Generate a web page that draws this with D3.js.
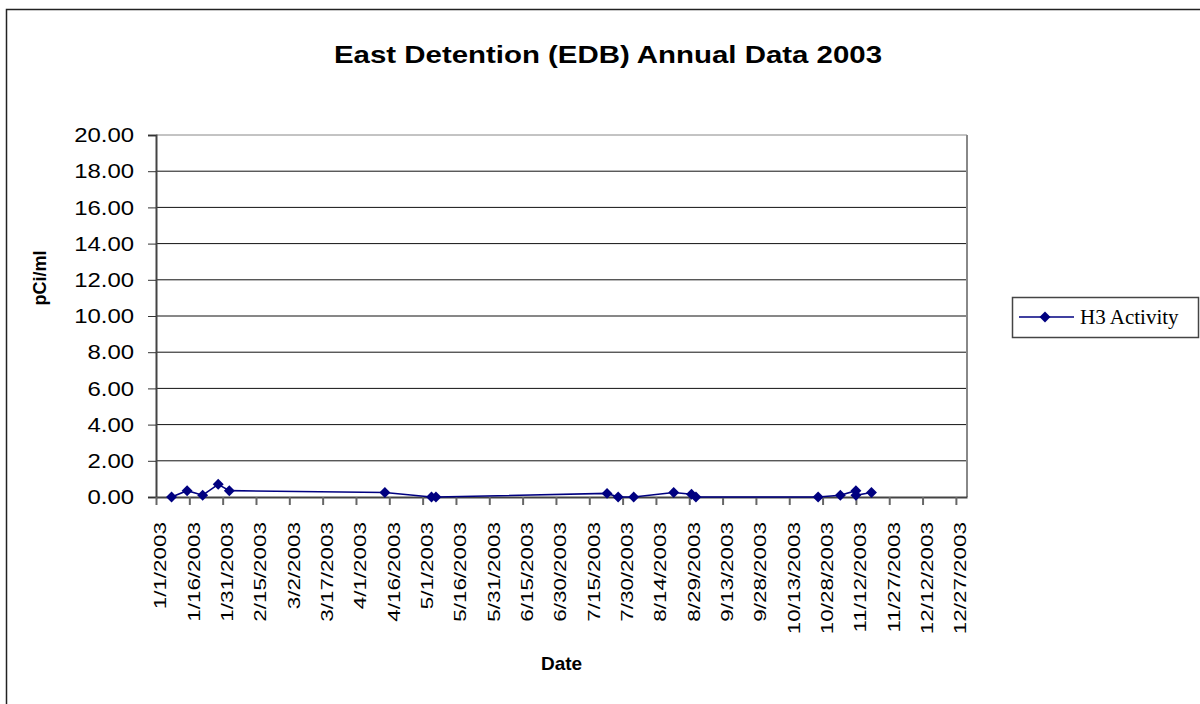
<!DOCTYPE html>
<html>
<head>
<meta charset="utf-8">
<script src="https://cdn.jsdelivr.net/npm/d3@7"></script>
<style>
  html, body { margin: 0; padding: 0; background: #fff; }
  svg { display: block; }
</style>
</head>
<body>
<svg id="chart" width="1200" height="704"></svg>
<script>
// H3 activity samples, East Detention basin, 2003
const sampleDates = [
  "2003-01-08", "2003-01-15", "2003-01-22", "2003-01-29", "2003-02-03",
  "2003-04-14", "2003-05-05", "2003-05-07",
  "2003-07-23", "2003-07-28", "2003-08-04", "2003-08-22", "2003-08-30", "2003-09-01",
  "2003-10-26", "2003-11-05", "2003-11-12", "2003-11-12", "2003-11-19"
];
const h3Activity = [
  0.00, 0.35, 0.10, 0.70, 0.35,
  0.25, 0.00, 0.00,
  0.20, 0.00, 0.00, 0.25, 0.15, 0.00,
  0.00, 0.10, 0.35, 0.10, 0.25
];
const yTickValues = [0, 2, 4, 6, 8, 10, 12, 14, 16, 18, 20];
const seriesName = "H3 Activity";

const parse = d3.timeParse("%Y-%m-%d");
const data = sampleDates.map((d, i) => ({ date: parse(d), value: h3Activity[i] }));

const svg = d3.select("#chart");
const plot = { left: 156, top: 135, right: 967, bottom: 497 };
const sans = "Liberation Sans, Arial, sans-serif";

// Outer chart frame (open on the right and bottom edges)
svg.append("path")
  .attr("d", "M6.5,705 L6.5,9.5 L1201,9.5")
  .attr("fill", "none")
  .attr("stroke", "#222")
  .attr("stroke-width", 1.5);

const x = d3.scaleTime()
  .domain([new Date(2003, 0, 1), new Date(2004, 0, 1)])
  .range([plot.left, plot.right]);
const y = d3.scaleLinear()
  .domain([0, 20])
  .range([plot.bottom, plot.top]);

// Horizontal gridlines
svg.append("g")
  .selectAll("line")
  .data(yTickValues.filter(v => v > 0))
  .join("line")
  .attr("x1", plot.left).attr("x2", plot.right)
  .attr("y1", d => y(d)).attr("y2", d => y(d))
  .attr("stroke", v => v === 20 ? "#888" : "#111")
  .attr("stroke-width", 1);

// Plot area right border
svg.append("line")
  .attr("x1", plot.right).attr("x2", plot.right)
  .attr("y1", plot.top).attr("y2", plot.bottom)
  .attr("stroke", "#888").attr("stroke-width", 2);

// Y axis
const yAxis = svg.append("g")
  .attr("transform", `translate(${plot.left},0)`)
  .call(d3.axisLeft(y).tickValues(yTickValues).tickFormat(d3.format(".2f")).tickSize(8).tickPadding(0));
yAxis.select(".domain").attr("stroke", "#444").attr("stroke-width", 2);
yAxis.selectAll(".tick line").attr("stroke", "#333");
yAxis.selectAll(".tick text")
  .attr("font-family", sans)
  .attr("font-size", 21)
  .attr("fill", "#000")
  .attr("x", 0)
  .attr("transform", "translate(-22,0) scale(1.14,1)");

// X axis: ticks every 15 days from Jan 1
const xTicks = d3.range(0, 361, 15).map(d => d3.timeDay.offset(new Date(2003, 0, 1), d));
const xAxis = svg.append("g")
  .attr("transform", `translate(0,${plot.bottom})`)
  .call(d3.axisBottom(x).tickValues(xTicks).tickFormat(d3.timeFormat("%-m/%-d/%Y")).tickSize(8).tickSizeOuter(0));
xAxis.select(".domain").attr("stroke", "#444").attr("stroke-width", 2);
xAxis.selectAll(".tick line").attr("stroke", "#666").attr("stroke-width", 2);
xAxis.selectAll(".tick text")
  .attr("font-family", sans)
  .attr("font-size", 16.5)
  .attr("fill", "#000")
  .attr("text-anchor", "end")
  .attr("dy", "0.35em")
  .attr("transform", "translate(4,25) rotate(-90) scale(1.36,1)")
  .attr("x", 0).attr("y", 0);

// Series line
const navy = "#000080";
svg.append("path")
  .datum(data)
  .attr("fill", "none")
  .attr("stroke", navy)
  .attr("stroke-width", 1.6)
  .attr("d", d3.line().x(d => x(d.date)).y(d => y(d.value)));

// Diamond markers
const diamond = d3.symbol().type(d3.symbolDiamond2).size(76);
svg.append("g")
  .selectAll("path")
  .data(data)
  .join("path")
  .attr("d", diamond)
  .attr("transform", d => `translate(${x(d.date)},${y(d.value)})`)
  .attr("fill", navy);

// Titles
svg.append("text")
  .attr("x", 608).attr("y", 63)
  .attr("text-anchor", "middle")
  .attr("font-family", sans)
  .attr("font-size", 24).attr("font-weight", "bold")
  .attr("textLength", 548).attr("lengthAdjust", "spacingAndGlyphs")
  .text("East Detention (EDB) Annual Data 2003");

svg.append("text")
  .attr("transform", "translate(46,278) rotate(-90)")
  .attr("text-anchor", "middle")
  .attr("font-family", sans)
  .attr("font-size", 18).attr("font-weight", "bold")
  .text("pCi/ml");

svg.append("text")
  .attr("x", (plot.left + plot.right) / 2).attr("y", 670)
  .attr("text-anchor", "middle")
  .attr("font-family", sans)
  .attr("font-size", 19).attr("font-weight", "bold")
  .text("Date");

// Legend
const legend = svg.append("g").attr("transform", "translate(1012,297)");
legend.append("rect")
  .attr("x", 0.5).attr("y", 0.5).attr("width", 186).attr("height", 40)
  .attr("fill", "#fff").attr("stroke", "#444").attr("stroke-width", 1.5);
legend.append("line")
  .attr("x1", 7).attr("x2", 62).attr("y1", 20).attr("y2", 20)
  .attr("stroke", navy).attr("stroke-width", 1.6);
legend.append("path")
  .attr("d", diamond)
  .attr("transform", "translate(33,20)")
  .attr("fill", navy);
legend.append("text")
  .attr("x", 68).attr("y", 27)
  .attr("font-family", "Liberation Serif, Times New Roman, serif")
  .attr("font-size", 21)
  .text(seriesName);
</script>
</body>
</html>
